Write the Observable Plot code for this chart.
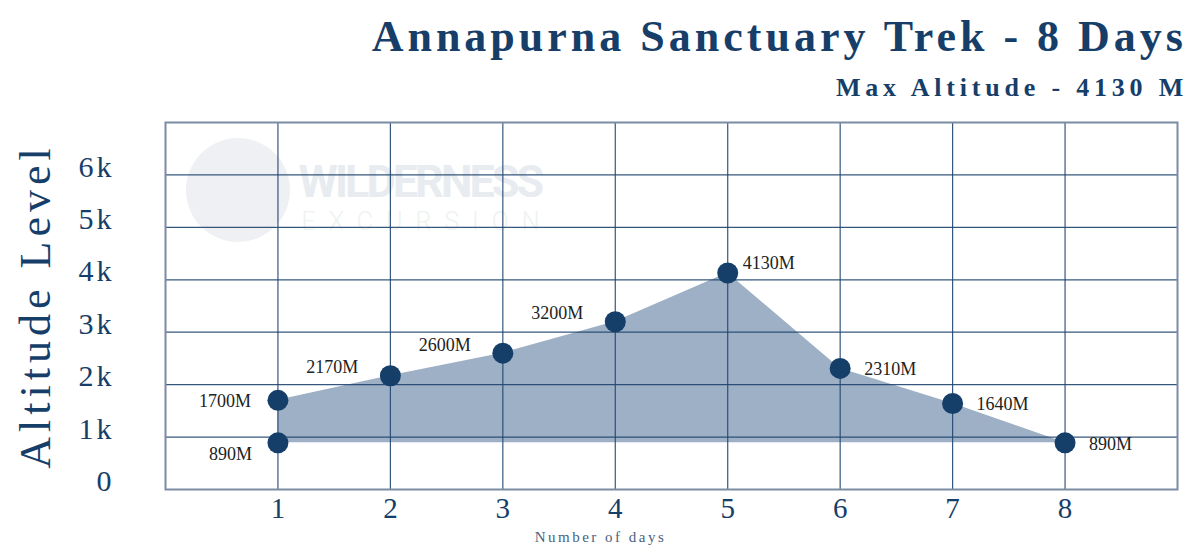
<!DOCTYPE html>
<html>
<head>
<meta charset="utf-8">
<script src="https://cdn.jsdelivr.net/npm/d3@7"></script>
<script src="https://cdn.jsdelivr.net/npm/@observablehq/plot@0.6"></script>
<style>
  html, body { margin: 0; padding: 0; background: #fff; }
  #wrap { width: 1200px; height: 556px; position: relative; overflow: hidden; }
  #header { position: relative; height: 110px; }
  .t { position: absolute; right: 13px; line-height: 1; white-space: nowrap; color: #163e69; font-family: "Liberation Serif", serif; font-weight: bold; }
  #title { top: 15px; font-size: 44px; letter-spacing: 4px; }
  #subtitle { top: 75px; font-size: 26px; letter-spacing: 4.8px; right: 12px; }
  #chart svg { overflow: visible; }
</style>
</head>
<body>
<div id="wrap">
  <div id="header">
    <div id="title" class="t">Annapurna Sanctuary Trek - 8 Days</div>
    <div id="subtitle" class="t">Max Altitude - 4130 M</div>
  </div>
  <div id="chart"></div>
</div>
<script>
// ---- data ----
const days = [1, 2, 3, 4, 5, 6, 7, 8];
const altitudes = [1700, 2170, 2600, 3200, 4130, 2310, 1640, 890];
const startDay = 1;
const startAltitude = 890;
const yTickValues = [0, 1000, 2000, 3000, 4000, 5000, 6000];
const yTickLabels = ["0", "1k", "2k", "3k", "4k", "5k", "6k"];
const xTickValues = [1, 2, 3, 4, 5, 6, 7, 8];
const leftLabelDays = [1, 2, 3, 4];

const route = days.map((d, i) => ({day: d, alt: altitudes[i]}));
const start = [{day: startDay, alt: startAltitude}];
const fmt = d => `${d.alt}M`;

const navy = "#153e69";
const labelFont = 18;

const chart = Plot.plot({
  width: 1200,
  height: 446,
  marginTop: 12,
  marginBottom: 67,
  marginLeft: 165,
  marginRight: 23,
  style: {fontFamily: "'Liberation Serif', serif", background: "transparent", overflow: "visible"},
  x: {domain: [0, 9], axis: null},
  y: {domain: [0, 7000], axis: null},
  marks: [
    // watermark
    Plot.text(["WILDERNESS"], {frameAnchor: "top-left", dx: 133, dy: 60, textAnchor: "start", lineAnchor: "middle", fontSize: 45, fontWeight: "bold", fontFamily: "Roboto, sans-serif", fill: "#e8ecf0"}),
    Plot.text(["EXCURSION"], {frameAnchor: "top-left", dx: 136, dy: 99, textAnchor: "start", lineAnchor: "middle", fontSize: 25, fontFamily: "Roboto, sans-serif", fontWeight: 300, fill: "#eef3ee"}),
    // area
    Plot.areaY(route, {x: "day", y1: startAltitude, y2: "alt", fill: "#9eb0c5"}),
    // grid
    Plot.gridX(xTickValues, {stroke: "#1f4570", strokeOpacity: 0.9, strokeWidth: 1.2}),
    Plot.gridY(yTickValues.slice(1), {stroke: "#1f4570", strokeOpacity: 0.9, strokeWidth: 1.2}),
    Plot.frame({stroke: "#7a8ca3", strokeWidth: 2}),
    // dots
    Plot.dot(start, {x: "day", y: "alt", r: 10.5, fill: navy}),
    Plot.dot(route, {x: "day", y: "alt", r: 10.5, fill: navy}),
    // labels
    Plot.text(start, {x: "day", y: "alt", text: fmt, dx: -26, dy: 11, textAnchor: "end", fontSize: labelFont, fill: "#222"}),
    Plot.text(route.filter(d => d.day === 1), {x: "day", y: "alt", text: fmt, dx: -27, dy: 1, textAnchor: "end", fontSize: labelFont, fill: "#222"}),
    Plot.text(route.filter(d => leftLabelDays.includes(d.day) && d.day !== 1), {x: "day", y: "alt", text: fmt, dx: -32, dy: -8, textAnchor: "end", fontSize: labelFont, fill: "#222"}),
    Plot.text(route.filter(d => !leftLabelDays.includes(d.day) && d.alt > 3000), {x: "day", y: "alt", text: fmt, dx: 15, dy: -10, textAnchor: "start", fontSize: labelFont, fill: "#222"}),
    Plot.text(route.filter(d => !leftLabelDays.includes(d.day) && d.alt <= 3000), {x: "day", y: "alt", text: fmt, dx: 24, dy: 1, textAnchor: "start", fontSize: labelFont, fill: "#222"}),
    // axes
    Plot.axisY(yTickValues, {tickSize: 0, tickPadding: 51, tickFormat: d => yTickLabels[yTickValues.indexOf(d)], fontSize: 30, fill: navy, label: null, dy: -8}),
    Plot.axisX(xTickValues, {tickSize: 0, tickPadding: 8, fontSize: 29, fill: navy, label: null}),
    Plot.text(["Altitude Level"], {frameAnchor: "left", textAnchor: "middle", rotate: -90, dx: -130, fontSize: 44, fill: navy}),
    Plot.text(["Number of days"], {frameAnchor: "bottom", textAnchor: "middle", dx: -71, dy: 52, fontSize: 15, fill: "#4a6180"})
  ]
});

// letter spacing touches (Plot text has no letterSpacing option)
const svg = d3.select(chart);
const spacing = {"WILDERNESS": "-3px", "EXCURSION": "13px", "Altitude Level": "5px", "Number of days": "2.5px"};
svg.selectAll("text").each(function () {
  const s = spacing[this.textContent];
  if (s) d3.select(this).style("letter-spacing", s);
});
svg.selectAll("g[aria-label='y-axis tick label'] text").style("letter-spacing", "3px");

// decorative watermark logo dome
svg.insert("circle", ":first-child")
  .attr("cx", 238).attr("cy", 80).attr("r", 52).attr("fill", "#eef0f3");

document.getElementById("chart").appendChild(chart);
</script>
</body>
</html>
